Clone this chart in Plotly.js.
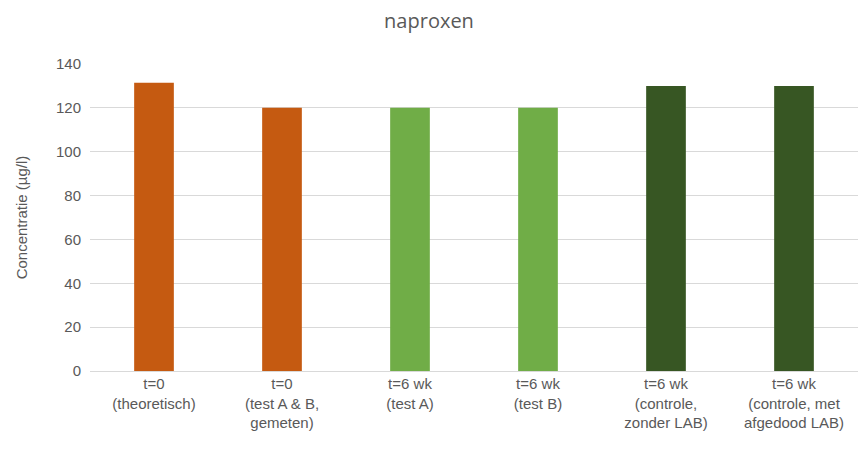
<!DOCTYPE html>
<html>
<head>
<meta charset="utf-8">
<script src="https://cdn.plot.ly/plotly-3.0.1.min.js"></script>
<style>
  html, body { margin: 0; padding: 0; background: #fff; }
  #chart { width: 858px; height: 463px; }
</style>
</head>
<body>
<div id="chart"></div>
<script>
// Naproxen concentrations per sample
const categories = [
  "t=0<br>(theoretisch)",
  "t=0<br>(test A &amp; B,<br>gemeten)",
  "t=6 wk<br>(test A)",
  "t=6 wk<br>(test B)",
  "t=6 wk<br>(controle,<br>zonder LAB)",
  "t=6 wk<br>(controle, met<br>afgedood LAB)"
];
const concentrations = [131.5, 120, 120, 120, 130, 130];
const barColors = ["#C55A11", "#C55A11", "#70AD47", "#70AD47", "#375623", "#375623"];
const yTicks = [0, 20, 40, 60, 80, 100, 120, 140];

const labelFont = { family: "Liberation Sans Narrow, Arial Narrow, Liberation Sans, sans-serif", size: 15, color: "#595959" };

const trace = {
  type: "bar",
  x: categories,
  y: concentrations,
  marker: { color: barColors },
  width: 0.31,
  hoverinfo: "none"
};

const layout = {
  width: 858,
  height: 463,
  margin: { l: 90, r: 0, t: 64, b: 92 },
  paper_bgcolor: "#ffffff",
  plot_bgcolor: "#ffffff",
  showlegend: false,
  title: {
    text: "naproxen",
    x: 0.5,
    xanchor: "center",
    y: 0.955,
    yanchor: "middle",
    font: { family: "Open Sans, sans-serif", size: 20, color: "#595959" }
  },
  xaxis: {
    type: "category",
    tickfont: labelFont,
    showgrid: false,
    showline: false,
    ticks: "",
    ticklabelstandoff: 2
  },
  yaxis: {
    range: [0, 140],
    tickvals: yTicks,
    ticktext: yTicks.map(String),
    showgrid: true,
    gridcolor: "#d9d9d9",
    gridwidth: 1,
    zeroline: true,
    zerolinecolor: "#d9d9d9",
    zerolinewidth: 1,
    showline: false,
    ticks: "",
    ticklabelstandoff: 8,
    tickfont: labelFont,
    title: {
      text: "Concentratie (µg/l)",
      standoff: 24,
      font: labelFont
    }
  }
};

Plotly.newPlot("chart", [trace], layout, { staticPlot: true, displayModeBar: false });
</script>
</body>
</html>
